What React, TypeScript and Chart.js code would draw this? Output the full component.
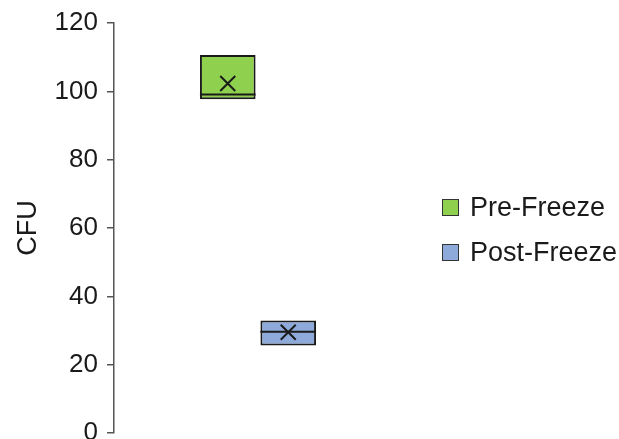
import React, { useEffect, useRef } from "react";
import { Chart, registerables } from "chart.js";

Chart.register(...registerables);

const categories = [""];
const seriesNames = ["Pre-Freeze", "Post-Freeze"];
const q1Values = [97.7, 25.6];
const medianValues = [99.1, 29.6];
const q3Values = [110.6, 32.9];
const meanValues = [102.3, 29.5];
const fillColors = ["#8fd14f", "#8eaadb"];
const yTicks = [0, 20, 40, 60, 80, 100, 120];

const boxExtras = {
  id: "boxExtras",
  afterDatasetsDraw(chart: any) {
    const ctx = chart.ctx;
    const yScale = chart.scales.y;
    chart.data.datasets.forEach((ds: any, di: number) => {
      const meta = chart.getDatasetMeta(di);
      meta.data.forEach((el: any) => {
        const x = el.x;
        const w = el.width;
        const ym = yScale.getPixelForValue(medianValues[di]);
        const ya = yScale.getPixelForValue(meanValues[di]);
        ctx.save();
        ctx.strokeStyle = "#1a1a1a";
        ctx.lineWidth = 2;
        ctx.beginPath();
        ctx.moveTo(x - w / 2, ym);
        ctx.lineTo(x + w / 2, ym);
        ctx.stroke();
        const s = 7.5;
        ctx.lineWidth = 2;
        ctx.beginPath();
        ctx.moveTo(x - s, ya - s);
        ctx.lineTo(x + s, ya + s);
        ctx.moveTo(x + s, ya - s);
        ctx.lineTo(x - s, ya + s);
        ctx.stroke();
        ctx.restore();
      });
    });
  },
};

const legendTops = [198, 243];

export default function App() {
  const ref = useRef<HTMLCanvasElement>(null);
  useEffect(() => {
    document.body.style.margin = "0";
    const chart = new Chart(ref.current!, {
      type: "bar",
      data: {
        labels: categories,
        datasets: seriesNames.map((name, i) => ({
          label: name,
          data: [[q1Values[i], q3Values[i]]] as any,
          backgroundColor: fillColors[i],
          borderColor: "#1a1a1a",
          borderWidth: 2,
          borderSkipped: false,
          categoryPercentage: 0.42,
          barPercentage: 0.92,
        })),
      },
      options: {
        animation: false,
        responsive: false,
        layout: { padding: { top: 23, left: 0, right: 217, bottom: 26 } },
        plugins: {
          tooltip: { enabled: false },
          legend: { display: false },
        },
        scales: {
          x: { display: false },
          y: {
            min: 0,
            max: 120,
            afterBuildTicks: (axis: any) => {
              axis.ticks = yTicks.map((v) => ({ value: v }));
            },
            afterFit: (axis: any) => {
              axis.width = 114;
            },
            border: { display: true, color: "#555", width: 1.5 },
            grid: { drawOnChartArea: false, drawTicks: true, tickLength: 7, color: "#555", lineWidth: 1.5 },
            ticks: {
              font: { family: "Liberation Sans", size: 26, lineHeight: 1 },
              color: "#1a1a1a",
              padding: 9,
            },
            title: {
              display: true,
              text: "CFU",
              font: { family: "Liberation Sans", size: 27 },
              color: "#1a1a1a",
              padding: { top: 12, bottom: 0 },
            },
          },
        },
      },
      plugins: [boxExtras],
    });
    return () => chart.destroy();
  }, []);
  return (
    <div style={{ position: "relative", width: 619, height: 459 }}>
      <canvas ref={ref} width={619} height={459} style={{ display: "block" }} />
      {seriesNames.map((name, i) => (
        <div
          key={name}
          style={{
            position: "absolute",
            left: 442,
            top: legendTops[i],
            height: 18,
            display: "flex",
            alignItems: "center",
            fontFamily: "Liberation Sans",
            fontSize: 27,
            lineHeight: "18px",
            color: "#1a1a1a",
            whiteSpace: "nowrap",
          }}
        >
          <span
            style={{
              display: "inline-block",
              width: 15,
              height: 15,
              background: fillColors[i],
              border: "1.5px solid #333",
              marginRight: 11,
            }}
          />
          <span>{name}</span>
        </div>
      ))}
    </div>
  );
}
